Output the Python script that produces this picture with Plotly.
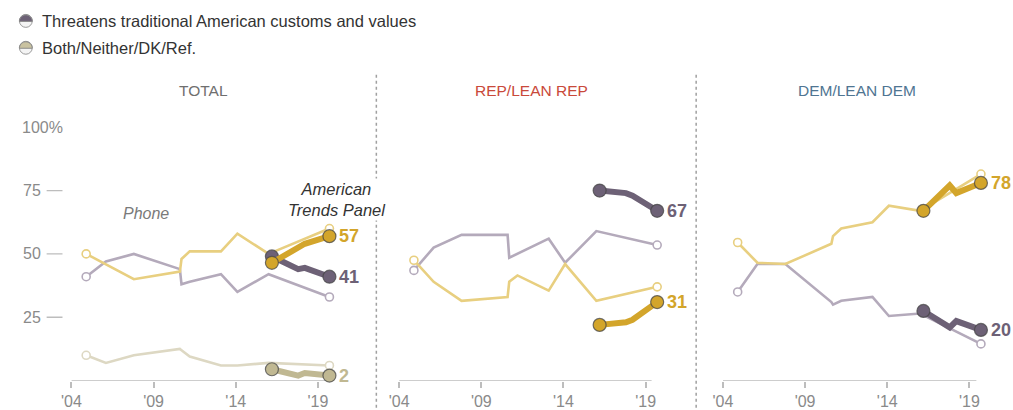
import math
import plotly.graph_objects as go

W, H = 1013, 410

# ---- data -------------------------------------------------------------
PHONE_YEARS = [2004.9, 2006.1, 2007.8, 2010.6, 2010.7, 2011.2, 2013.1, 2014.1, 2016.0, 2019.7]
ATP_YEARS = [2016.2, 2017.8, 2018.2, 2019.7]

TOTAL_THREAT_PHONE = [41, 47, 50, 44, 38, 39, 42, 35, 42, 33]
TOTAL_STRENGTH_PHONE = [50, 46, 40, 43, 48, 51, 51, 58, 50, 60]
TOTAL_BOTH_PHONE = [10, 7, 10, 12.5, 12, 9.5, 6, 6, 7, 6]
TOTAL_THREAT_ATP = [49, 44, 44.5, 41]
TOTAL_STRENGTH_ATP = [46.5, 53, 54, 57]
TOTAL_BOTH_ATP = [4.5, 2, 3, 2]

REP_THREAT_PHONE = [43.5, 52.5, 57.5, 57.5, 48.5, 50, 56, 46.5, 59, 53.5]
REP_STRENGTH_PHONE = [47.5, 39, 31.5, 33, 39, 41.5, 35.5, 46, 31.5, 37]
REP_THREAT_ATP = [75, 74, 73, 67]
REP_STRENGTH_ATP = [22, 23, 24, 31]

DEM_THREAT_PHONE = [35, 46, 46, 31, 30, 31.5, 33, 25.5, 26.5, 14.5]
DEM_STRENGTH_PHONE = [54.5, 46.5, 46, 54, 57, 60, 62.5, 69, 67, 81.5]
DEM_THREAT_ATP = [27.5, 21, 23.5, 20]
DEM_STRENGTH_ATP = [67, 77, 74, 78]

PANEL_TITLES = ["TOTAL", "REP/LEAN REP", "DEM/LEAN DEM"]
TITLE_COLORS = ["#6f6f6f", "#c9493a", "#4f7592"]
X_TICKS = [2004, 2009, 2014, 2019]
X_TICK_TEXT = ["'04", "'09", "'14", "'19"]
Y_TICKS = [25, 50, 75, 100]
Y_TICK_TEXT = ["25", "50", "75", "100%"]
LEGEND_LABELS = ["Threatens traditional American customs and values", "Both/Neither/DK/Ref."]

# ---- styling ----------------------------------------------------------
THREAT_DARK, THREAT_LIGHT = "#6d6176", "#b4aabb"
STRENGTH_DARK, STRENGTH_LIGHT = "#d3a52b", "#e8cf80"
BOTH_DARK, BOTH_LIGHT = "#c0b892", "#ddd8c3"
FONT = "Liberation Sans"


def px(x):
    return x / W


def py(y):
    return 1 - y / H


# left edge of each panel (pixels), where '04 sits, and where its axis line ends
PANEL_LEFT = [62, 393, 720]
AXIS_END_PX = [323, 648, 976]
TITLE_CENTER = [195, 527, 855]
PX_PER_YEAR = 16.6
X_MAX = 2020.4
Y_BOTTOM_PX, Y_TOP_PX = 382.5, 127.8

fig = go.Figure()
layout_axes = {}
shapes = []
for i, l in enumerate(PANEL_LEFT):
    sfx = "" if i == 0 else str(i + 1)
    r = l + (X_MAX - 2004) * PX_PER_YEAR
    layout_axes["xaxis" + sfx] = dict(
        domain=[px(l), px(r)],
        range=[2004, X_MAX],
        anchor="y" + sfx,
        showgrid=False, zeroline=False, showline=False,
        ticks="outside", ticklen=6, tickcolor="#bdbdbd", tickwidth=1.5,
        tickvals=X_TICKS, ticktext=X_TICK_TEXT,
        tickfont=dict(family=FONT, size=16, color="#8a8a8a"),
        fixedrange=True,
    )
    layout_axes["yaxis" + sfx] = dict(
        domain=[py(Y_BOTTOM_PX), py(Y_TOP_PX)],
        range=[0, 100], anchor="x" + sfx,
        visible=False, fixedrange=True,
    )
    # baseline of the panel
    shapes.append(dict(type="line", xref="x" + sfx, yref="y" + sfx,
                       x0=2004, x1=2004 + (AXIS_END_PX[i] - l) / PX_PER_YEAR,
                       y0=0, y1=0, line=dict(color="#bdbdbd", width=1.5), layer="below"))


def add_phone(panel, phone, light):
    sfx = "" if panel == 0 else str(panel + 1)
    xa, ya = "x" + sfx, "y" + sfx
    fig.add_trace(go.Scatter(
        x=PHONE_YEARS, y=phone, xaxis=xa, yaxis=ya, mode="lines",
        line=dict(color=light, width=2.6), hoverinfo="skip"))
    fig.add_trace(go.Scatter(
        x=[PHONE_YEARS[0], PHONE_YEARS[-1]], y=[phone[0], phone[-1]],
        xaxis=xa, yaxis=ya, mode="markers", cliponaxis=False,
        marker=dict(size=8, color="white", line=dict(color=light, width=1.6)),
        hoverinfo="skip"))


def add_atp(panel, atp, dark):
    sfx = "" if panel == 0 else str(panel + 1)
    xa, ya = "x" + sfx, "y" + sfx
    fig.add_trace(go.Scatter(
        x=ATP_YEARS, y=atp, xaxis=xa, yaxis=ya, mode="lines",
        line=dict(color=dark, width=6), hoverinfo="skip"))
    fig.add_trace(go.Scatter(
        x=[ATP_YEARS[0], ATP_YEARS[-1]], y=[atp[0], atp[-1]],
        xaxis=xa, yaxis=ya, mode="markers", cliponaxis=False,
        marker=dict(size=13, color=dark, line=dict(color="rgba(70,70,70,0.75)", width=1.2)),
        hoverinfo="skip"))
    fig.add_annotation(
        x=ATP_YEARS[-1], y=atp[-1], xref=xa, yref=ya,
        text="<b>%g</b>" % atp[-1], showarrow=False,
        xanchor="left", yanchor="middle", xshift=8,
        font=dict(family=FONT, size=18, color=dark))


# thin phone-survey lines
add_phone(0, TOTAL_BOTH_PHONE, BOTH_LIGHT)
add_phone(0, TOTAL_THREAT_PHONE, THREAT_LIGHT)
add_phone(0, TOTAL_STRENGTH_PHONE, STRENGTH_LIGHT)
add_phone(1, REP_THREAT_PHONE, THREAT_LIGHT)
add_phone(1, REP_STRENGTH_PHONE, STRENGTH_LIGHT)
add_phone(2, DEM_THREAT_PHONE, THREAT_LIGHT)
add_phone(2, DEM_STRENGTH_PHONE, STRENGTH_LIGHT)

# thick panel lines
add_atp(0, TOTAL_BOTH_ATP, BOTH_DARK)
add_atp(0, TOTAL_THREAT_ATP, THREAT_DARK)
add_atp(0, TOTAL_STRENGTH_ATP, STRENGTH_DARK)
add_atp(1, REP_THREAT_ATP, THREAT_DARK)
add_atp(1, REP_STRENGTH_ATP, STRENGTH_DARK)
add_atp(2, DEM_THREAT_ATP, THREAT_DARK)
add_atp(2, DEM_STRENGTH_ATP, STRENGTH_DARK)

annotations = list(fig.layout.annotations)

# y-axis labels and dashes (first panel only)
for v, t in zip(Y_TICKS, Y_TICK_TEXT):
    if v == 100:
        annotations.append(dict(x=px(10), y=v, xref="paper", yref="y", text=t,
                                showarrow=False, xanchor="left", yanchor="middle",
                                font=dict(family=FONT, size=16, color="#8a8a8a")))
    else:
        annotations.append(dict(x=px(33), y=v, xref="paper", yref="y", text=t,
                                showarrow=False, xanchor="right", yanchor="middle",
                                font=dict(family=FONT, size=16, color="#8a8a8a")))
        shapes.append(dict(type="line", xref="paper", yref="y", x0=px(37), x1=px(53),
                           y0=v, y1=v, line=dict(color="#bdbdbd", width=1.3)))

# panel titles
for center, title, col in zip(TITLE_CENTER, PANEL_TITLES, TITLE_COLORS):
    annotations.append(dict(x=px(center), y=py(91), xref="paper", yref="paper",
                            text=title, showarrow=False, xanchor="center", yanchor="middle",
                            font=dict(family=FONT, size=15.5, color=col)))

# dotted separators
for xs in (370, 693):
    shapes.append(dict(type="line", xref="paper", yref="paper", x0=px(xs), x1=px(xs),
                       y0=py(75), y1=0, line=dict(color="#a0a0a0", width=1.5, dash="dot"),
                       layer="below"))

# survey-mode notes
annotations.append(dict(x=px(137), y=py(215), xref="paper", yref="paper",
                        text="<i>Phone</i>", showarrow=False,
                        xanchor="center", yanchor="middle",
                        font=dict(family=FONT, size=16, color="#7a7a7a")))
annotations.append(dict(x=px(330), y=py(200), xref="paper", yref="paper",
                        text="<i>American<br>Trends Panel</i>", showarrow=False,
                        xanchor="center", yanchor="middle",
                        align="center", bgcolor="white",
                        font=dict(family=FONT, size=16.5, color="#333333")))

# legend (half-filled circle icons)
legend_rows = [(21, THREAT_DARK), (48, "#c9c2a0")]
for (cy, col), label in zip(legend_rows, LEGEND_LABELS):
    cx, rr = 16, 6.5
    shapes.append(dict(type="circle", xref="paper", yref="paper",
                       x0=px(cx - rr), x1=px(cx + rr), y0=py(cy + rr), y1=py(cy - rr),
                       fillcolor="#f4f4f4", line=dict(color="#9a9a9a", width=1)))
    pts = []
    for k in range(0, 19):
        a = math.pi * k / 18
        pts.append((px(cx + rr * math.cos(a)), py(cy - rr * math.sin(a) + 0.5)))
    path = "M " + " L ".join("%f,%f" % p for p in pts) + " Z"
    shapes.append(dict(type="path", xref="paper", yref="paper", path=path,
                       fillcolor=col, line=dict(color="#8a8a8a", width=1)))
    annotations.append(dict(x=px(30), y=py(cy), xref="paper", yref="paper",
                            text=label, showarrow=False, xanchor="left", yanchor="middle",
                            font=dict(family=FONT, size=16.5, color="#333333")))

fig.update_layout(
    width=W, height=H,
    margin=dict(l=0, r=0, t=0, b=0),
    paper_bgcolor="white", plot_bgcolor="white",
    showlegend=False,
    shapes=shapes, annotations=annotations,
    **layout_axes,
)

fig.write_html("out.html", config={"displayModeBar": False})
